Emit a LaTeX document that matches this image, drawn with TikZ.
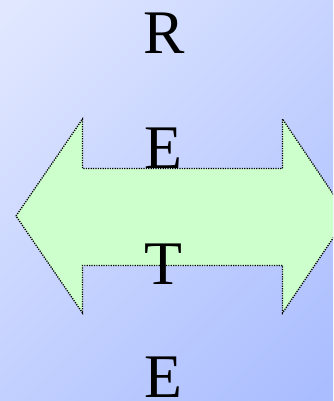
\documentclass[tikz,border=0pt]{standalone}
\usepackage{fontspec}
\setmainfont{Liberation Serif}
\begin{document}
\begin{tikzpicture}[x=1pt,y=-1pt,
  letter/.style={anchor=base,inner sep=0pt,font=\fontsize{62}{62}\selectfont,text=black},
  arrowshape/.style={fill=arrowgreen,draw=black,line width=1.3pt,dash pattern=on 1.2pt off 1.2pt}]
\definecolor{bgtl}{RGB}{224,231,255}
\definecolor{bgbr}{RGB}{170,189,255}
\definecolor{arrowgreen}{RGB}{204,255,204}
\clip (0,0) rectangle (333,401);
\useasboundingbox (0,0) rectangle (333,401);
\shade[top color=bgtl,bottom color=bgbr,shading angle=45] (-60,-60) rectangle (393,461);
\draw[arrowshape] (16,216) -- (82.5,119) -- (82.5,168.5) -- (282.5,168.5) -- (282.5,119) -- (348,216) -- (282.5,313) -- (282.5,265.5) -- (82.5,265.5) -- (82.5,313) -- cycle;
\node[letter] (r) at (164,54) {R};
\node[letter] (e1) at (163,168) {E};
\node[letter] (t) at (163,284) {T};
\node[letter] (e2) at (163,397) {E};
\end{tikzpicture}
\end{document}
